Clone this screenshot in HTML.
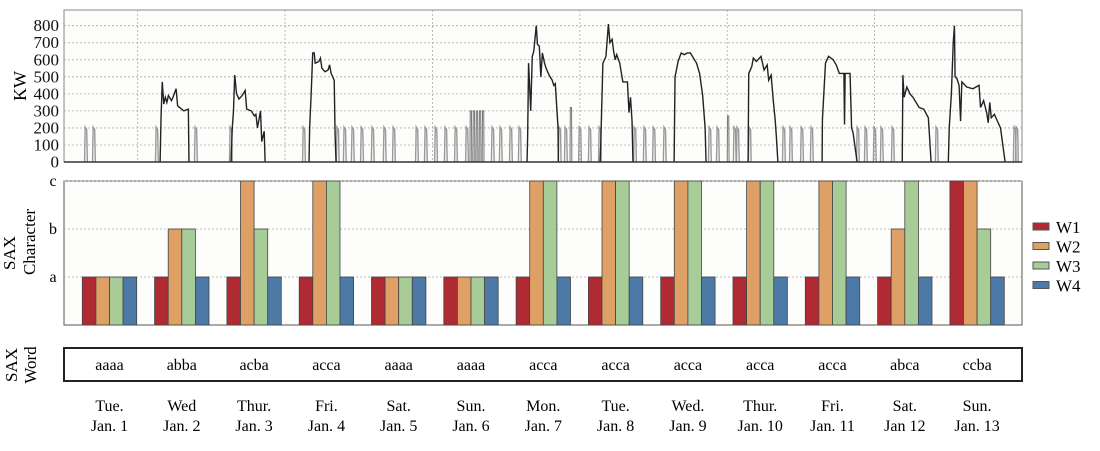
<!DOCTYPE html>
<html><head><meta charset="utf-8"><style>
body{margin:0;background:#fff;}
svg{font-family:"Liberation Serif",serif;display:block}
</style></head><body>
<svg id="c" width="1100" height="451" xmlns="http://www.w3.org/2000/svg"></svg>
<script>
const days=["Tue.|Jan. 1","Wed|Jan. 2","Thur.|Jan. 3","Fri.|Jan. 4","Sat.|Jan. 5","Sun.|Jan. 6","Mon.|Jan. 7","Tue.|Jan. 8","Wed.|Jan. 9","Thur.|Jan. 10","Fri.|Jan. 11","Sat.|Jan 12","Sun.|Jan. 13"];
const words=["aaaa","abba","acba","acca","aaaa","aaaa","acca","acca","acca","acca","acca","abca","ccba"];
const W1=[1,1,1,1,1,1,1,1,1,1,1,1,3];
const W2=[1,2,3,3,1,1,3,3,3,3,3,2,3];
const W3=[1,2,2,3,1,1,3,3,3,3,3,3,2];
const W4=[1,1,1,1,1,1,1,1,1,1,1,1,1];
const kwTicks=[0,100,200,300,400,500,600,700,800];
const saxTicks=["a","b","c"];
const spikeHours=[7.2,9.8,30.3,43,54.4,78.2,89.2,91.5,94.1,97.1,100.6,104.5,107.5,115,117.9,121.2,124.4,127.7,131.3,139.7,142.3,145.6,148.5,161.5,163.5,168.1,171.3,174.6,186,189.2,192.2,195.7,210.4,213,218.5,219.5,223.4,234.5,236.8,240.4,243.6,258.6,261.2,264.1,266.4,270,284.3,309.7,310.4];
const tallSpikes=[[132.5,300],[133.5,300],[134.5,300],[135.5,300],[136.5,300],[165.1,320],[216.3,270]];
const blocks=[
[[31.3,0],[31.6,260],[32,470],[32.5,340],[33,380],[33.5,350],[34,390],[35,360],[35.5,380],[36.5,430],[37,330],[38,315],[39,300],[40.5,310],[40.7,0]],
[[54.4,0],[54.8,200],[55.2,300],[55.6,510],[56.2,400],[57,370],[58,390],[59,420],[59.5,310],[61,300],[62,270],[62.5,280],[63,200],[64,300],[64.4,120],[65.2,180],[65.5,0]],
[[79.8,0],[80,200],[80.5,400],[81,640],[81.5,640],[81.8,580],[83,590],[83.5,610],[84,550],[85,530],[86,540],[86.5,570],[87,520],[88,480],[88.3,150],[88.6,0]],
[[150.8,0],[151,150],[151.3,580],[152,300],[152.5,620],[153,650],[153.8,800],[154.2,690],[154.8,680],[155.3,500],[155.8,640],[156.5,580],[157,550],[158,510],[159,480],[159.5,450],[160,460],[160.9,200],[161,0]],
[[174.6,0],[174.8,100],[175.5,580],[176.5,620],[177.3,810],[177.8,700],[178.5,720],[179,650],[179.5,600],[180,630],[181,580],[182,470],[182.8,470],[183.5,470],[184,290],[184.5,380],[185,240],[185.3,0]],
[[198.7,0],[199,500],[200,590],[201,640],[202,630],[203,640],[204,640],[205,610],[206,580],[207,520],[208,390],[208.8,200],[209.1,0]],
[[222.8,0],[223,520],[224,560],[224.5,610],[225.5,590],[227,620],[228,540],[229,570],[229.5,480],[230.3,510],[231,360],[231.6,250],[232,150],[232.5,0]],
[[246.9,0],[247,250],[248,580],[249,620],[250.5,600],[251.5,570],[252.5,520],[254,520],[254.2,220],[254.4,520],[256,520],[256.5,200],[257,170],[258.3,0]],
[[273,0],[273.2,510],[273.6,380],[274.5,440],[275.5,400],[276.5,380],[277.5,350],[278.5,320],[280,310],[281.5,260],[282.4,0]],
[[288,0],[288.3,200],[289,400],[289.6,700],[290,800],[290.2,500],[290.8,490],[291.5,450],[292,240],[292.4,470],[294,440],[296,430],[298,450],[298.5,320],[299.5,360],[300.5,290],[301,230],[301.5,350],[302,260],[303,280],[304,240],[305,200],[306.5,0]]
];
const NS="http://www.w3.org/2000/svg";
const svg=document.getElementById('c');
function el(t,a,txt){const e=document.createElementNS(NS,t);for(const k in a)e.setAttribute(k,a[k]);if(txt!==undefined)e.textContent=txt;svg.appendChild(e);return e;}
const L=64,R=1022;
const tT=10,tB=162;
const xH=h=>L+h/312*(R-L);
const yK=k=>tB-k*(136.3/800);
let e=el('rect',{x:L,y:tT,width:R-L,height:tB-tT,fill:'#fdfdfb',stroke:'#888','stroke-width':1});

kwTicks.forEach(k=>{
 if(k>0){e=el('line',{x1:L,x2:R,y1:yK(k),y2:yK(k),stroke:'#aaa','stroke-dasharray':'2,2','stroke-width':0.8});
 }
 e=el('text',{x:59,y:yK(k)+5.5,'text-anchor':'end','font-size':17,fill:'#111'},k);
 
});
for(let d=1;d<13;d+=2){e=el('line',{x1:xH(d*24),x2:xH(d*24),y1:tT,y2:tB,stroke:'#aaa','stroke-dasharray':'2,2','stroke-width':0.8});
}
spikeHours.forEach(h=>{
 const pts=[[h-0.5,0],[h-0.3,205],[h+0.2,190],[h+0.4,0]];
 e=el('polyline',{points:pts.map(p=>xH(p[0])+','+yK(p[1])).join(' '),fill:'none',stroke:'#999','stroke-width':1.4});
 
});
tallSpikes.forEach(s=>{
 const h=s[0],v=s[1];const pts=[[h-0.3,0],[h-0.2,v],[h+0.2,v],[h+0.3,0]];
 e=el('polyline',{points:pts.map(p=>xH(p[0])+','+yK(p[1])).join(' '),fill:'none',stroke:'#777','stroke-width':1});
 
});
blocks.forEach(b=>{
 e=el('polyline',{points:b.map(p=>xH(p[0])+','+yK(p[1])).join(' '),fill:'none',stroke:'#222','stroke-width':1.4});
 
});
e=el('line',{x1:L,x2:R,y1:tB,y2:tB,stroke:'#333','stroke-width':1.5});

e=el('text',{x:0,y:0,'font-size':18,'text-anchor':'middle',transform:'translate(26,86) rotate(-90)'},'KW');

const bT=181,bB=325,step=48;
const yS=v=>bB-v*step;
e=el('rect',{x:L,y:bT,width:R-L,height:bB-bT,fill:'#fdfdfb',stroke:'#555','stroke-width':1});

saxTicks.forEach((t,i)=>{
 e=el('line',{x1:L,x2:R,y1:yS(i+1),y2:yS(i+1),stroke:'#aaa','stroke-dasharray':'2,2','stroke-width':0.8});
 
 e=el('text',{x:53,y:yS(i+1)+5,'text-anchor':'middle','font-size':16},t);
 
});
const series=[W1,W2,W3,W4],cols=['#b02a33','#dea064','#a7cc98','#4d79a6'],names=['W1','W2','W3','W4'];
const gx=i=>109.5+i*72.3,bw=13.6;
const box=el('rect',{x:L,y:348,width:R-L,height:33,fill:'#fff',stroke:'#222','stroke-width':2});


days.forEach((d,i)=>{
 series.forEach((s,j)=>{
  e=el('rect',{x:gx(i)-2*bw+j*bw,y:yS(s[i]),width:bw,height:bB-yS(s[i]),fill:cols[j],stroke:'#444','stroke-width':0.8});
  
 });
 e=el('text',{x:gx(i),y:370,'text-anchor':'middle','font-size':16},words[i]);
 
 const p=d.split('|');
 e=el('text',{x:gx(i),y:411,'text-anchor':'middle','font-size':16},p[0]);
 
 e=el('text',{x:gx(i),y:431,'text-anchor':'middle','font-size':16},p[1]);
 
});
e=el('text',{x:0,y:0,'font-size':17,'text-anchor':'middle',transform:'translate(15,253) rotate(-90)'},'SAX');

e=el('text',{x:0,y:0,'font-size':17,'text-anchor':'middle',transform:'translate(35,242) rotate(-90)'},'Character');

names.forEach((n,j)=>{
 e=el('rect',{x:1033,y:223+j*19.5,width:16,height:7,fill:cols[j],stroke:'#555','stroke-width':1});
 
 e=el('text',{x:1056,y:233+j*19.5,'font-size':17},n);
 
});
e=el('text',{x:0,y:0,'font-size':17,'text-anchor':'middle',transform:'translate(17,365) rotate(-90)'},'SAX');

e=el('text',{x:0,y:0,'font-size':17,'text-anchor':'middle',transform:'translate(36,365) rotate(-90)'},'Word');

</script>
</body></html>
